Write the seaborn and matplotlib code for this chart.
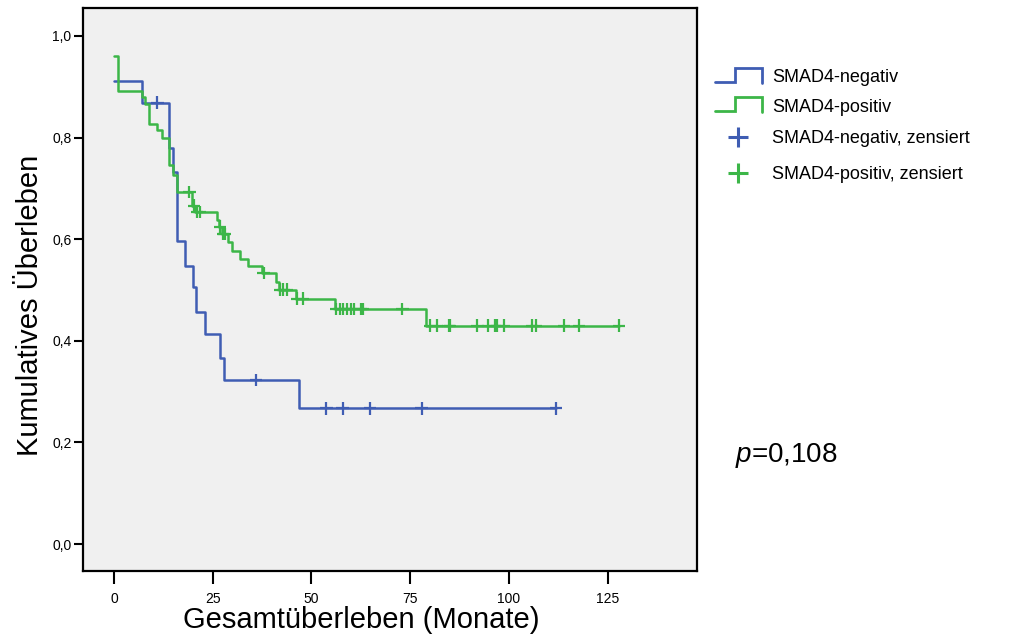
import numpy as np
import pandas as pd
import matplotlib
matplotlib.use("Agg")
import matplotlib.pyplot as plt
from matplotlib.lines import Line2D
from matplotlib.legend_handler import HandlerBase
from matplotlib.ticker import FuncFormatter
import seaborn as sns

# Kaplan-Meier estimates: event times (months) and survival after each step
neg_event_months = [0, 7.0, 14.0, 14.9, 15.9, 18.0, 19.9, 20.8, 23.0, 26.8, 27.8, 46.9]
neg_survival = [0.912, 0.869, 0.779, 0.733, 0.596, 0.547, 0.505, 0.457, 0.413, 0.366, 0.323, 0.267]
neg_censored_months = [11.0, 35.9, 53.8, 57.9, 64.8, 77.9, 111.9]

pos_event_months = [0, 1.1, 7.0, 7.8, 8.9, 10.8, 12.1, 14.0, 14.9, 15.9, 19.7, 20.5, 26.0, 26.6,
                    27.4, 28.9, 30.0, 31.9, 34.0, 37.6, 41.0, 41.8, 46.1, 56.0, 79.0]
pos_survival = [0.960, 0.892, 0.879, 0.866, 0.827, 0.814, 0.799, 0.746, 0.727, 0.693, 0.666, 0.653,
                0.638, 0.625, 0.610, 0.594, 0.577, 0.562, 0.548, 0.533, 0.516, 0.501, 0.483, 0.463, 0.430]
pos_censored_months = [19.1, 20.3, 21.0, 21.7, 26.8, 27.6, 28.0, 37.9, 42.0, 42.9, 43.7, 46.4, 47.9,
                       56.3, 57.1, 58.1, 58.9, 59.9, 60.8, 62.6, 63.0, 73.0, 80.0, 81.8, 84.7, 85.1,
                       92.0, 94.8, 96.5, 97.0, 98.8, 105.9, 106.8, 114.0, 117.8, 127.8]

group_labels = ["SMAD4-negativ", "SMAD4-positiv"]
censor_labels = ["SMAD4-negativ, zensiert", "SMAD4-positiv, zensiert"]
x_ticks = [0, 25, 50, 75, 100, 125]
y_ticks = [0.0, 0.2, 0.4, 0.6, 0.8, 1.0]
p_text = "$p$=0,108"
x_label = "Gesamtüberleben (Monate)"
y_label = "Kumulatives Überleben"

colors = {"SMAD4-negativ": "#3F5DB3", "SMAD4-positiv": "#3CB648"}

sns.set_theme(style="white")
plt.rcParams["font.family"] = ["Liberation Sans", "DejaVu Sans"]
plt.rcParams["text.color"] = "black"
plt.rcParams["axes.labelcolor"] = "black"
plt.rcParams["mathtext.fontset"] = "custom"
plt.rcParams["mathtext.it"] = "Liberation Sans:italic"
plt.rcParams["mathtext.rm"] = "Liberation Sans"


def curve_frame(label, events, surv, censored):
    t = list(events) + [max(censored)]
    s = list(surv) + [surv[-1]]
    return pd.DataFrame({"month": t, "survival": s, "group": label})


def censor_frame(label, events, surv, censored):
    idx = np.searchsorted(np.asarray(events), np.asarray(censored), side="right") - 1
    return pd.DataFrame({"month": censored,
                         "survival": np.asarray(surv)[idx],
                         "group": label})


curves = pd.concat([
    curve_frame(group_labels[0], neg_event_months, neg_survival, neg_censored_months),
    curve_frame(group_labels[1], pos_event_months, pos_survival, pos_censored_months),
], ignore_index=True)
censors = pd.concat([
    censor_frame(group_labels[0], neg_event_months, neg_survival, neg_censored_months),
    censor_frame(group_labels[1], pos_event_months, pos_survival, pos_censored_months),
], ignore_index=True)

fig = plt.figure(figsize=(10.28, 6.37), dpi=100)
fig.patch.set_facecolor("white")
ax = fig.add_axes([0.0807, 0.1036, 0.5973, 0.8838])
ax.set_facecolor("#F0F0F0")

sns.lineplot(data=curves, x="month", y="survival", hue="group", palette=colors,
             estimator=None, sort=False, drawstyle="steps-post", linewidth=1.8,
             legend=False, ax=ax)
sns.scatterplot(data=censors, x="month", y="survival", hue="group", palette=colors,
                marker="+", s=80, linewidth=1.6, legend=False, ax=ax, zorder=3)

ax.set_xlim(-7.85, 147.6)
ax.set_ylim(-0.053, 1.055)
ax.set_xticks(x_ticks)
ax.set_yticks(y_ticks)
ax.yaxis.set_major_formatter(FuncFormatter(lambda v, _: f"{v:.1f}".replace(".", ",")))
ax.xaxis.set_major_formatter(FuncFormatter(lambda v, _: f"{v:.0f}"))
ax.tick_params(axis="x", direction="out", length=9, width=1.5, pad=6,
               labelsize=10, colors="black", bottom=True)
ax.tick_params(axis="y", direction="out", length=6.7, width=1.5, pad=1.5,
               labelsize=10, colors="black", left=True)
for spine in ax.spines.values():
    spine.set_visible(True)
    spine.set_color("black")
    spine.set_linewidth(1.6)

ax.set_xlabel(x_label, fontsize=21, color="black")
ax.set_ylabel(y_label, fontsize=21, color="black")
ax.xaxis.label.set_va("center")
ax.yaxis.label.set_va("center")
ax.xaxis.set_label_coords(0.4536, -0.087)
ax.yaxis.set_label_coords(-0.0863, 0.472)


class StepHandler(HandlerBase):
    def create_artists(self, legend, orig_handle, xdescent, ydescent, width, height,
                       fontsize, trans):
        c = height / 2 - ydescent
        xs = [-xdescent, -xdescent + 0.43 * width, -xdescent + 0.43 * width,
              -xdescent + width, -xdescent + width]
        ys = [c - 0.45 * height, c - 0.45 * height, c + 0.65 * height,
              c + 0.65 * height, c - 0.55 * height]
        line = Line2D(xs, ys, color=orig_handle.get_color(), linewidth=2.0,
                      solid_joinstyle="miter", transform=trans)
        return [line]


legend_style = dict(loc="upper left", frameon=False, borderpad=0, borderaxespad=0,
                    fontsize=13, handlelength=2.6, handletextpad=0.55)

step_handles = [Line2D([], [], color=colors[g]) for g in group_labels]
censor_handles = [Line2D([], [], color=colors[g], marker="+", linestyle="none",
                         markersize=15, markeredgewidth=2.2) for g in group_labels]

fig.legend(step_handles, group_labels,
           handler_map={h: StepHandler() for h in step_handles},
           bbox_to_anchor=(715 / 1028, 1 - 69.5 / 637), labelspacing=0.68, **legend_style)
fig.legend(censor_handles, censor_labels,
           bbox_to_anchor=(715 / 1028, 1 - 130 / 637), labelspacing=1.05, **legend_style)

fig.text(735 / 1028, 1 - 455 / 637, p_text, fontsize=20, va="center", ha="left")

fig.savefig("out.png", dpi=100)
